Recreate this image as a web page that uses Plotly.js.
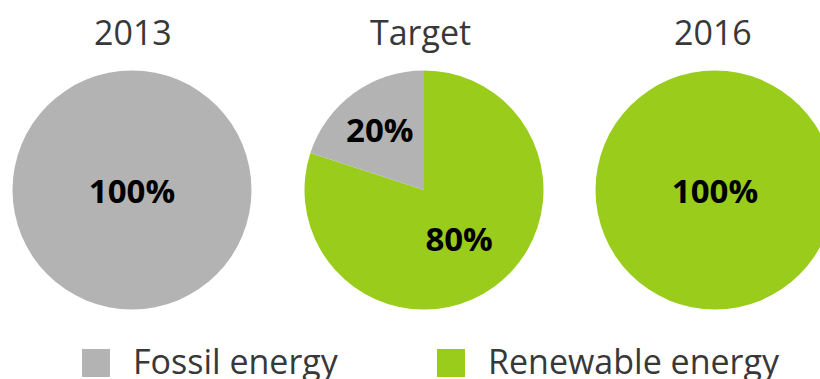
<!DOCTYPE html>
<html>
<head>
<meta charset="utf-8">
<script src="https://cdn.plot.ly/plotly-3.0.1.min.js"></script>
<style>
html, body { margin: 0; padding: 0; overflow: hidden; background: #fff; width: 820px; height: 379px; }
#chart { width: 840px; height: 379px; }
</style>
</head>
<body>
<div id="chart"></div>
<script>
// ---- data ----
var categories = ['Fossil energy', 'Renewable energy'];
var pieTitles = ['2013', 'Target', '2016'];
var values2013 = [100, 0];
var valuesTarget = [20, 80];
var values2016 = [0, 100];
var colors = ['#B3B3B3', '#99CC1B'];

// ---- layout helpers ----
var W = 840, H = 379;
function px(x) { return x / W; }
function py(y) { return 1 - y / H; }

var allValues = [values2013, valuesTarget, values2016];
var centersX = [132, 424, 715];
var titleX = [133, 420, 713];
var centerY = 190, R = 119.5;

// slices drawn renewable first (clockwise from 12 o'clock), then fossil
var order = [1, 0];

var traces = allValues.map(function (vals, i) {
  var v = order.map(function (k) { return vals[k]; });
  return {
    type: 'pie',
    labels: order.map(function (k) { return categories[k]; }),
    values: v,
    sort: false,
    direction: 'clockwise',
    rotation: 0,
    marker: { colors: order.map(function (k) { return colors[k]; }), line: { width: 0 } },
    texttemplate: v.map(function (x) { return x > 0 ? '%{percent:.0%}' : ''; }),
    textposition: 'inside',
    insidetextorientation: 'horizontal',
    textfont: { family: 'Open Sans, sans-serif', size: 33, color: '#000000', weight: 'bold' },
    hoverinfo: 'label+percent',
    showlegend: false,
    domain: {
      x: [px(centersX[i] - R), px(centersX[i] + R)],
      y: [py(centerY + R), py(centerY - R)]
    }
  };
});

var annotations = pieTitles.map(function (t, i) {
  return {
    text: t, xref: 'paper', yref: 'paper',
    x: px(titleX[i]), y: py(32), xanchor: 'center', yanchor: 'middle',
    showarrow: false,
    font: { family: 'Open Sans, sans-serif', size: 34, color: '#383838' }
  };
});

var legendX = [82, 437];
var shapes = [];
categories.forEach(function (c, i) {
  shapes.push({
    type: 'rect', xref: 'paper', yref: 'paper',
    x0: px(legendX[i]), x1: px(legendX[i] + 28),
    y0: py(377), y1: py(349),
    fillcolor: colors[i], line: { width: 0 }
  });
  annotations.push({
    text: c, xref: 'paper', yref: 'paper',
    x: px(legendX[i] + 49), y: py(361), xanchor: 'left', yanchor: 'middle',
    showarrow: false,
    font: { family: 'Open Sans, sans-serif', size: 34, color: '#383838' }
  });
});

var layout = {
  width: W, height: H,
  margin: { l: 0, r: 0, t: 0, b: 0 },
  paper_bgcolor: '#ffffff',
  showlegend: false,
  annotations: annotations,
  shapes: shapes
};

Plotly.newPlot('chart', traces, layout, { displayModeBar: false, staticPlot: true });
</script>
</body>
</html>
